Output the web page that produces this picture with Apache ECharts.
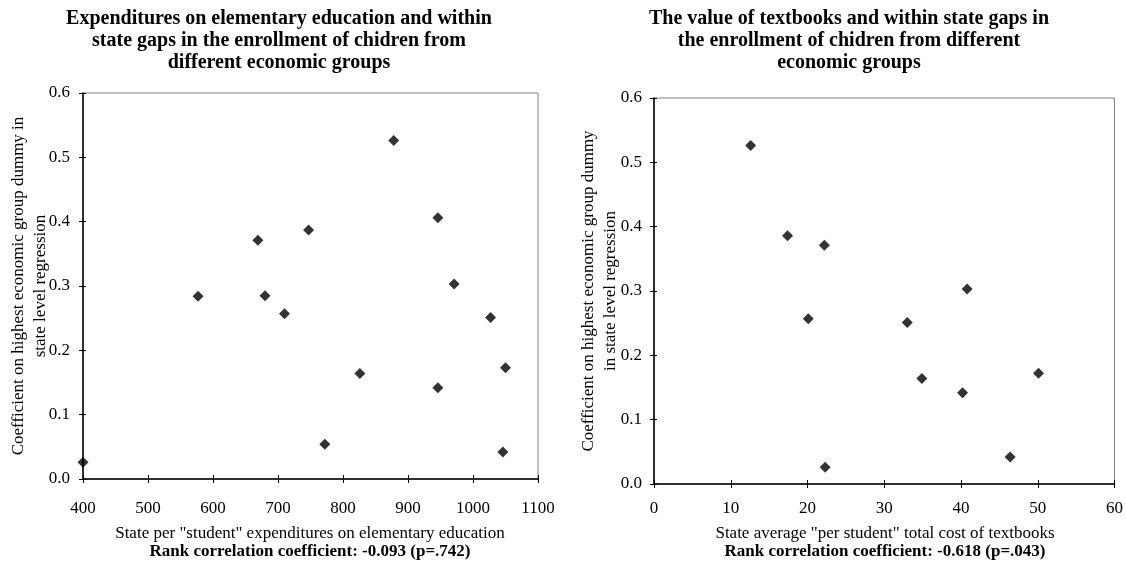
<!DOCTYPE html>
<html>
<head>
<meta charset="utf-8">
<script src="https://cdn.jsdelivr.net/npm/echarts@6/dist/echarts.min.js"></script>
<style>html,body{margin:0;padding:0;background:#fff}#c{width:1126px;height:567px}</style>
</head>
<body>
<div id="c"></div>
<script>
// Left chart: state per-student expenditure vs coefficient
const expenditure = [400, 577, 669, 680, 710, 747, 772, 826, 878, 946, 946, 971, 1027, 1050, 1046];
const coefLeft    = [0.026, 0.284, 0.371, 0.285, 0.257, 0.387, 0.054, 0.164, 0.526, 0.406, 0.142, 0.303, 0.251, 0.173, 0.042];
// Right chart: textbook cost vs coefficient
const textbookCost = [12.6, 17.4, 22.2, 20.1, 22.3, 33.0, 34.9, 40.8, 40.2, 46.4, 50.1];
const coefRight    = [0.526, 0.386, 0.371, 0.257, 0.026, 0.251, 0.164, 0.303, 0.142, 0.042, 0.172];

const leftXTicks = {min: 400, max: 1100, interval: 100};
const rightXTicks = {min: 0, max: 60, interval: 10};
const yTicks = {min: 0, max: 0.6, interval: 0.1};

const titleLeft = 'Expenditures on elementary education and within\nstate gaps in the enrollment of chidren from\ndifferent economic groups';
const titleRight = 'The value of textbooks and within state gaps in\nthe enrollment of chidren from different\neconomic groups';
const xNameLeft = 'State per "student" expenditures on elementary education';
const xNameRight = 'State average "per student" total cost of textbooks';
const yNameLeft = 'Coefficient on highest economic group dummy in\nstate level regression';
const yNameRight = 'Coefficient on highest economic group dummy\nin state level regression';
const rankLeft = 'Rank correlation coefficient: -0.093 (p=.742)';
const rankRight = 'Rank correlation coefficient: -0.618 (p=.043)';

const FONT = '"Liberation Serif", "Times New Roman", serif';

function pairs(xs, ys) { return xs.map((x, i) => [x, ys[i]]); }

function mainX(gi, t, margin) {
  return {
    type: 'value', gridIndex: gi, min: t.min, max: t.max, interval: t.interval,
    axisLine: {show: true, onZero: false, lineStyle: {color: '#000', width: 1.5}},
    axisTick: {show: true, length: 4, lineStyle: {color: '#000'}},
    axisLabel: {fontFamily: FONT, fontSize: 17, color: '#000', margin: margin, formatter: v => String(v)},
    splitLine: {show: false}
  };
}
function innerX(gi, t) {
  return {
    type: 'value', gridIndex: gi, min: t.min, max: t.max, interval: t.interval,
    axisLine: {show: false}, axisLabel: {show: false}, splitLine: {show: false},
    axisTick: {show: true, inside: true, length: 4, lineStyle: {color: '#000'}},
    position: 'bottom'
  };
}
function mainY(gi, margin) {
  return {
    type: 'value', gridIndex: gi, min: yTicks.min, max: yTicks.max, interval: yTicks.interval,
    axisLine: {show: true, onZero: false, lineStyle: {color: '#000', width: 1.5}},
    axisTick: {show: true, length: 4, lineStyle: {color: '#000'}},
    axisLabel: {fontFamily: FONT, fontSize: 17, color: '#000', margin: margin,
      formatter: v => v.toFixed(1)},
    splitLine: {show: false}
  };
}
function innerY(gi) {
  return {
    type: 'value', gridIndex: gi, min: yTicks.min, max: yTicks.max, interval: yTicks.interval,
    axisLine: {show: false}, axisLabel: {show: false}, splitLine: {show: false},
    axisTick: {show: true, inside: true, length: 3, lineStyle: {color: '#000'}},
    position: 'left'
  };
}
function txt(x, y, text, size, bold, extra) {
  return Object.assign({type: 'text', x: x, y: y, silent: true,
    style: {text: text, fontFamily: FONT, fontSize: size, fontWeight: bold ? 'bold' : 'normal',
      align: 'center', verticalAlign: 'middle', lineHeight: 22, fill: '#000'}}, extra || {});
}

const chart = echarts.init(document.getElementById('c'), null, {renderer: 'canvas'});
chart.setOption({
  animation: false,
  backgroundColor: '#fff',
  grid: [
    {left: 83, top: 93, width: 455, height: 386, show: true, borderColor: '#808080', borderWidth: 1, backgroundColor: '#fff'},
    {left: 654, top: 98, width: 462, height: 386, show: true, borderColor: '#808080', borderWidth: 1, backgroundColor: '#fff'}
  ],
  xAxis: [mainX(0, leftXTicks, 21), mainX(1, rightXTicks, 16), innerX(0, leftXTicks), innerX(1, rightXTicks)],
  yAxis: [mainY(0, 13), mainY(1, 12), innerY(0), innerY(1)],
  graphic: [
    txt(279, 41, titleLeft, 20, true),
    txt(849, 41, titleRight, 20, true),
    txt(30, 286, yNameLeft, 17, false, {rotation: Math.PI / 2}),
    txt(600, 291, yNameRight, 17, false, {rotation: Math.PI / 2}),
    txt(310, 534, xNameLeft, 17, false),
    txt(885, 534, xNameRight, 17, false),
    txt(310, 552, rankLeft, 17, true),
    txt(885, 552, rankRight, 17, true)
  ],
  series: [
    {type: 'scatter', xAxisIndex: 0, yAxisIndex: 0, data: pairs(expenditure, coefLeft), symbol: 'diamond', symbolSize: [11, 11], itemStyle: {color: '#000'}},
    {type: 'scatter', xAxisIndex: 1, yAxisIndex: 1, data: pairs(textbookCost, coefRight), symbol: 'diamond', symbolSize: [11, 11], itemStyle: {color: '#000'}}
  ]
});
</script>
</body>
</html>
